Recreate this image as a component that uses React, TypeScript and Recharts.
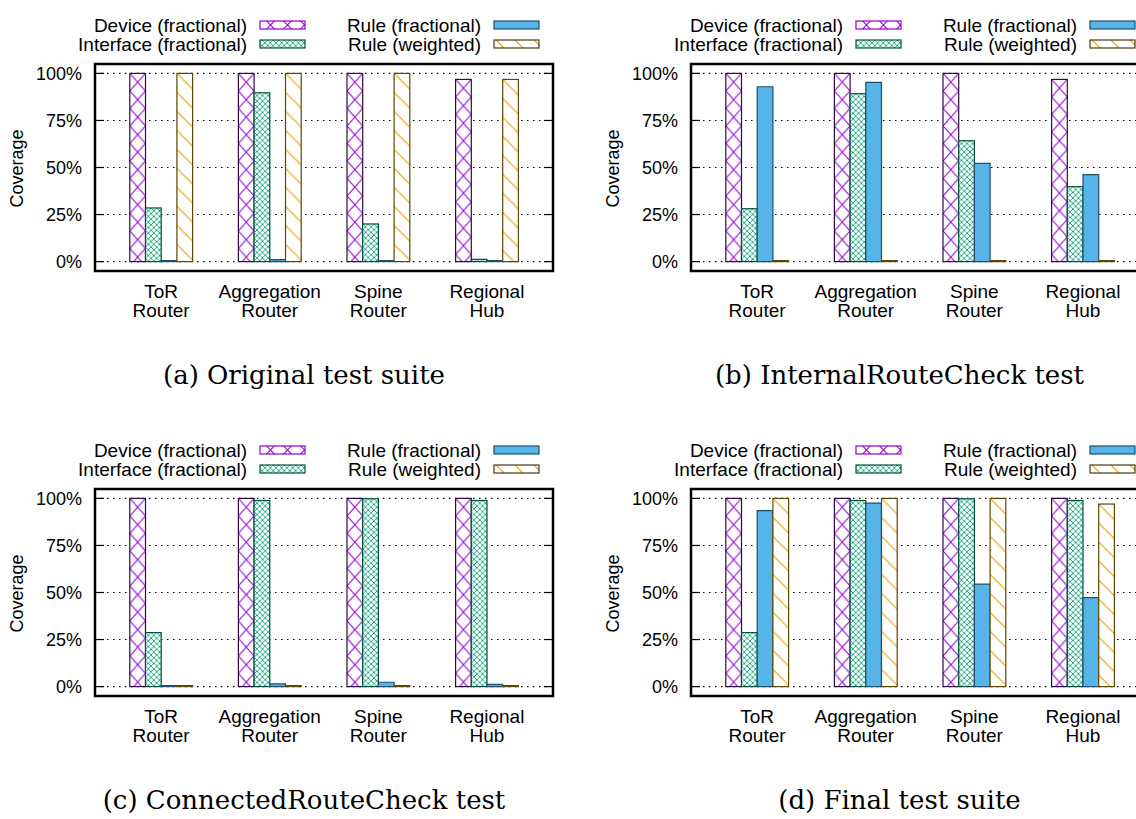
import React from 'react';
import { BarChart, Bar, XAxis, YAxis, CartesianGrid } from 'recharts';

// ---------- data ----------
const categories = ['ToR Router', 'Aggregation Router', 'Spine Router', 'Regional Hub'];
const seriesNames = ['Device (fractional)', 'Interface (fractional)', 'Rule (fractional)', 'Rule (weighted)'];
const yTicks = [0, 25, 50, 75, 100];
const captions = ['(a) Original test suite', '(b) InternalRouteCheck test', '(c) ConnectedRouteCheck test', '(d) Final test suite'];

const originalDevice = [100, 100, 100, 96.8];
const originalInterface = [28.5, 89.7, 20.0, 1.2];
const originalRuleFrac = [0, 1.0, 0, 0];
const originalRuleWeighted = [100, 100, 100, 96.8];

const internalDevice = [100, 100, 100, 96.8];
const internalInterface = [28.1, 89.2, 64.2, 39.8];
const internalRuleFrac = [92.9, 95.2, 52.2, 46.2];
const internalRuleWeighted = [0, 0, 0, 0];

const connectedDevice = [100, 100, 100, 100];
const connectedInterface = [28.7, 98.9, 99.8, 98.9];
const connectedRuleFrac = [0.4, 1.4, 2.3, 1.2];
const connectedRuleWeighted = [0, 0, 0, 0];

const finalDevice = [100, 100, 100, 100];
const finalInterface = [28.7, 98.9, 99.8, 98.9];
const finalRuleFrac = [93.5, 97.5, 54.5, 47.3];
const finalRuleWeighted = [100, 100, 100, 97.0];

// ---------- layout / style ----------
const CHART_W = 600;
const CHART_H = 340;
const MARGIN = { top: 64, right: 47, bottom: 9, left: 0 };
const Y_AXIS_W = 95;
const X_AXIS_H = 60;
const PLOT_L = MARGIN.left + Y_AXIS_W;
const PLOT_R = CHART_W - MARGIN.right;
const PLOT_T = MARGIN.top;
const PLOT_B = CHART_H - MARGIN.bottom - X_AXIS_H;
const BAR_W = 15.7;
const CAT_PAD = 11.8;
const SANS = '"Liberation Sans", Arial, Helvetica, sans-serif';
const SERIF = '"DejaVu Serif", "Liberation Serif", serif';

const COLORS = { device: '#9400D3', iface: '#009E73', rule: '#56B4E9', weighted: '#E69F00' };
const BORDERS = { device: '#2d0a40', iface: '#004f3a', rule: '#1f4f6b', weighted: '#5c4600' };
const LEGEND_BORDERS = { device: '#9400D3', iface: '#00513b', rule: '#1f4f6b', weighted: '#4a3a10' };

type Kind = 'device' | 'iface' | 'weighted';

function PatternDef({ kind, id, x, y, w }: { kind: Kind; id: string; x: number; y: number; w: number }) {
  if (kind === 'device') {
    const h = 17.5;
    return (
      <pattern id={id} patternUnits="userSpaceOnUse" x={x} y={y} width={w} height={h}>
        <path d={`M0,0 L${w},${h} M${w},0 L0,${h}`} stroke={COLORS.device} strokeWidth={1.1} fill="none" />
      </pattern>
    );
  }
  if (kind === 'iface') {
    const t = 5.6;
    return (
      <pattern id={id} patternUnits="userSpaceOnUse" x={x} y={y} width={t} height={t}>
        <path d={`M0,0 L${t},${t} M${t},0 L0,${t}`} stroke={COLORS.iface} strokeWidth={0.85} fill="none" />
      </pattern>
    );
  }
  const t = 19;
  return (
    <pattern id={id} patternUnits="userSpaceOnUse" x={x} y={y} width={t} height={t}>
      <path d={`M0,0 L${t},${t} M-3,${t - 3} L3,${t + 3} M${t - 3},-3 L${t + 3},3`} stroke={COLORS.weighted} strokeWidth={1.1} fill="none" />
    </pattern>
  );
}

const makeShape = (kind: Kind, panel: string) => (props: any) => {
  const { x, y, width, height, index } = props;
  if (!(width > 0) || height == null) return null;
  let h = height;
  let yy = y;
  if (h < 0) {
    yy = y + h;
    h = -h;
  }
  const id = `pat-${panel}-${kind}-${index}`;
  return (
    <g>
      <defs>
        <PatternDef kind={kind} id={id} x={x} y={yy} w={kind === 'device' ? width : 0} />
      </defs>
      <rect x={x} y={yy} width={width} height={h} fill="#fff" />
      <rect x={x} y={yy} width={width} height={h} fill={`url(#${id})`} stroke={BORDERS[kind]} strokeWidth={1.2} />
    </g>
  );
};

const YTick = (props: any) => {
  const { y, payload } = props;
  return (
    <g>
      <line x1={PLOT_L} x2={PLOT_L + 9} y1={y} y2={y} stroke="#000" strokeWidth={1.2} />
      <line x1={PLOT_R - 9} x2={PLOT_R} y1={y} y2={y} stroke="#000" strokeWidth={1.2} />
      <text x={PLOT_L - 13} y={y} dy={6.5} textAnchor="end" fontSize={18} fontFamily={SANS} fill="#000">
        {`${payload.value}%`}
      </text>
    </g>
  );
};

const XTick = (props: any) => {
  const { x, payload } = props;
  const s = String(payload.value);
  const k = s.indexOf(' ');
  const lines = [s.slice(0, k), s.slice(k + 1)];
  return (
    <text x={x} y={PLOT_B + 27} textAnchor="middle" fontSize={19} fontFamily={SANS} fill="#000">
      <tspan x={x}>{lines[0]}</tspan>
      <tspan x={x} dy={19}>{lines[1]}</tspan>
    </text>
  );
};

function LegendBlock({ panel }: { panel: string }) {
  const textRight = [247, 481];
  const swX = [260, 494];
  const swW = 45;
  const swH = 8;
  const rowY = [21, 40];
  const kinds: (Kind | 'rule')[] = ['device', 'iface', 'rule', 'weighted'];
  return (
    <g>
      {seriesNames.map((name, i) => {
        const col = Math.floor(i / 2);
        const row = i % 2;
        const kind = kinds[i];
        const sx = swX[col];
        const sy = rowY[row];
        const id = `lg-${panel}-${kind}`;
        return (
          <g key={name}>
            <text x={textRight[col]} y={sy + swH / 2} dy={6.6} textAnchor="end" fontSize={19} fontFamily={SANS} fill="#000">
              {name}
            </text>
            {kind === 'rule' ? (
              <rect x={sx} y={sy} width={swW} height={swH} fill={COLORS.rule} stroke={LEGEND_BORDERS.rule} strokeWidth={1.2} />
            ) : (
              <g>
                <defs>
                  <PatternDef kind={kind} id={id} x={sx + 2} y={kind === 'device' ? sy + swH / 2 - 8.75 : sy} w={17} />
                </defs>
                <rect x={sx} y={sy} width={swW} height={swH} fill="#fff" />
                <rect x={sx} y={sy} width={swW} height={swH} fill={`url(#${id})`} stroke={LEGEND_BORDERS[kind]} strokeWidth={1.2} />
              </g>
            )}
          </g>
        );
      })}
    </g>
  );
}

function Panel({ panel, left, top, device, iface, ruleFrac, ruleWeighted }: any) {
  const data = categories.map((c, i) => ({
    name: c,
    device: device[i],
    iface: iface[i],
    ruleFrac: ruleFrac[i],
    ruleWeighted: ruleWeighted[i],
  }));
  return (
    <div style={{ position: 'absolute', left, top, width: CHART_W, height: CHART_H }}>
      <BarChart width={CHART_W} height={CHART_H} data={data} margin={MARGIN} barGap={0}>
        <CartesianGrid vertical={false} stroke="#000" strokeDasharray="1.5 4.5" strokeWidth={1.1} />
        <XAxis
          dataKey="name"
          height={X_AXIS_H}
          axisLine={false}
          tickLine={false}
          interval={0}
          padding={{ left: CAT_PAD, right: CAT_PAD }}
          tick={<XTick />}
        />
        <YAxis
          width={Y_AXIS_W}
          domain={[-5, 105]}
          ticks={yTicks}
          allowDataOverflow
          axisLine={false}
          tickLine={false}
          tick={<YTick />}
        />
        <Bar dataKey="device" name={seriesNames[0]} barSize={BAR_W} minPointSize={1} isAnimationActive={false} shape={makeShape('device', panel)} />
        <Bar dataKey="iface" name={seriesNames[1]} barSize={BAR_W} minPointSize={1} isAnimationActive={false} shape={makeShape('iface', panel)} />
        <Bar
          dataKey="ruleFrac"
          name={seriesNames[2]}
          barSize={BAR_W}
          minPointSize={1}
          isAnimationActive={false}
          fill={COLORS.rule}
          stroke={BORDERS.rule}
          strokeWidth={1.2}
        />
        <Bar dataKey="ruleWeighted" name={seriesNames[3]} barSize={BAR_W} minPointSize={1} isAnimationActive={false} shape={makeShape('weighted', panel)} />
        <rect x={PLOT_L} y={PLOT_T} width={PLOT_R - PLOT_L} height={PLOT_B - PLOT_T} fill="none" stroke="#000" strokeWidth={2.5} />
        <text
          x={23}
          y={(PLOT_T + PLOT_B) / 2 + 1}
          transform={`rotate(-90, 23, ${(PLOT_T + PLOT_B) / 2 + 1})`}
          textAnchor="middle"
          fontSize={18}
          fontFamily={SANS}
          fill="#000"
        >
          Coverage
        </text>
        <LegendBlock panel={panel} />
      </BarChart>
    </div>
  );
}

export default function App() {
  const colX = [0, 596];
  const rowY = [0, 425];
  const capX = [304, 899.5];
  const capY = [384, 809];
  return (
    <div style={{ position: 'absolute', left: 0, top: 0, width: 1136, height: 819, overflow: 'hidden', background: '#fff' }}>
      <Panel panel="a" left={colX[0]} top={rowY[0]} device={originalDevice} iface={originalInterface} ruleFrac={originalRuleFrac} ruleWeighted={originalRuleWeighted} />
      <Panel panel="b" left={colX[1]} top={rowY[0]} device={internalDevice} iface={internalInterface} ruleFrac={internalRuleFrac} ruleWeighted={internalRuleWeighted} />
      <Panel panel="c" left={colX[0]} top={rowY[1]} device={connectedDevice} iface={connectedInterface} ruleFrac={connectedRuleFrac} ruleWeighted={connectedRuleWeighted} />
      <Panel panel="d" left={colX[1]} top={rowY[1]} device={finalDevice} iface={finalInterface} ruleFrac={finalRuleFrac} ruleWeighted={finalRuleWeighted} />
      <svg width={1136} height={819} style={{ position: 'absolute', left: 0, top: 0, pointerEvents: 'none' }}>
        {captions.map((c, i) => (
          <text key={c} x={capX[i % 2]} y={capY[Math.floor(i / 2)]} textAnchor="middle" fontSize={26} fontFamily={SERIF} fill="#000">
            {c}
          </text>
        ))}
      </svg>
    </div>
  );
}
